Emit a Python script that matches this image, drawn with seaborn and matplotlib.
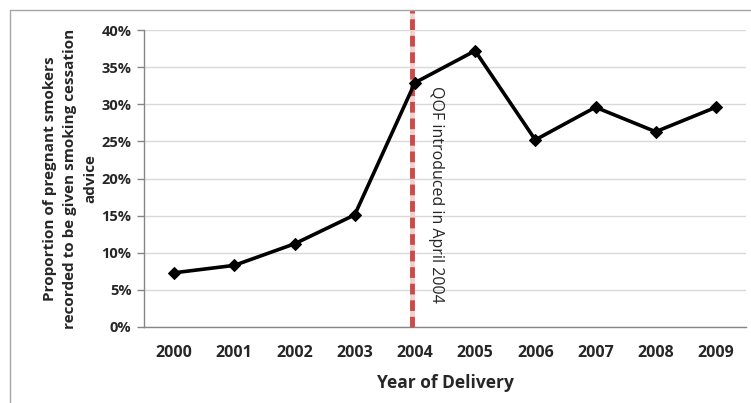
import matplotlib.pyplot as plt
import seaborn as sns
import pandas as pd
from matplotlib.lines import Line2D

years = ["2000", "2001", "2002", "2003", "2004", "2005", "2006", "2007", "2008", "2009"]
proportion = [0.073, 0.083, 0.112, 0.151, 0.329, 0.372, 0.252, 0.296, 0.263, 0.296]
y_ticks = [0.0, 0.05, 0.10, 0.15, 0.20, 0.25, 0.30, 0.35, 0.40]
qof_year = "2004"
qof_label = "QOF introduced in April 2004"

sns.set_style("white")
plt.rcParams['font.family'] = ['Open Sans', 'DejaVu Sans']

df = pd.DataFrame({"idx": range(len(years)), "year": years, "p": proportion})

fig = plt.figure(figsize=(7.51, 4.03), dpi=100)
ax = fig.add_axes([144 / 751, 1 - 327 / 403, (746 - 144) / 751, (327 - 30) / 403])

sns.lineplot(data=df, x="idx", y="p", color="black", lw=2.6, marker="D", markersize=6,
             markeredgecolor="black", ax=ax, zorder=5)

ax.set_xlim(-0.5, len(years) - 0.5)
ax.set_ylim(0, 0.40)
ax.set_yticks(y_ticks)
ax.set_yticklabels([f"{int(round(t * 100))}%" for t in y_ticks], fontweight="bold", fontsize=10.5)
ax.set_xticks(range(len(years)))
ax.set_xticklabels(years, fontweight="bold", fontsize=11.5)
ax.set_xticks([i - 0.5 for i in range(len(years) + 1)], minor=True)
ax.tick_params(axis="x", which="major", length=0, pad=13)
ax.tick_params(axis="x", which="minor", length=5, color="#868686", width=1)
ax.tick_params(axis="y", which="major", length=5, color="#868686", width=1, left=True, pad=4)

ax.grid(axis="y", color="#d9d9d9", lw=1)
ax.set_axisbelow(True)
for s in ["top", "right"]:
    ax.spines[s].set_visible(False)
for s in ["left", "bottom"]:
    ax.spines[s].set_color("#868686")
    ax.spines[s].set_linewidth(1)

ax.set_xlabel("Year of Delivery", fontweight="bold", fontsize=12.5, labelpad=9)
ax.set_ylabel("Proportion of pregnant smokers\nrecorded to be given smoking cessation\nadvice",
              fontweight="bold", fontsize=11, labelpad=3, linespacing=1.55)

# QOF marker line
qx = years.index(qof_year) - 0.05
ax.vlines(qx, 0, 0.427, color="#f0d0d0", lw=3.5, clip_on=False, zorder=2)
ax.vlines(qx, 0, 0.427, color="#cc4a4a", lw=3.5, linestyles=(0, (2.2, 1.2)), clip_on=False, zorder=3)
ax.text(years.index(qof_year) + 0.35, 0.178, qof_label, rotation=-90, ha="center", va="center",
        fontsize=11.5, zorder=6)

# chart border
fig.add_artist(Line2D([10 / 751, 10 / 751], [0, 1 - 10 / 403], color="#a6a6a6", lw=1))
fig.add_artist(Line2D([10 / 751, 1], [1 - 10 / 403, 1 - 10 / 403], color="#a6a6a6", lw=1))

fig.savefig("out.png", dpi=100)
